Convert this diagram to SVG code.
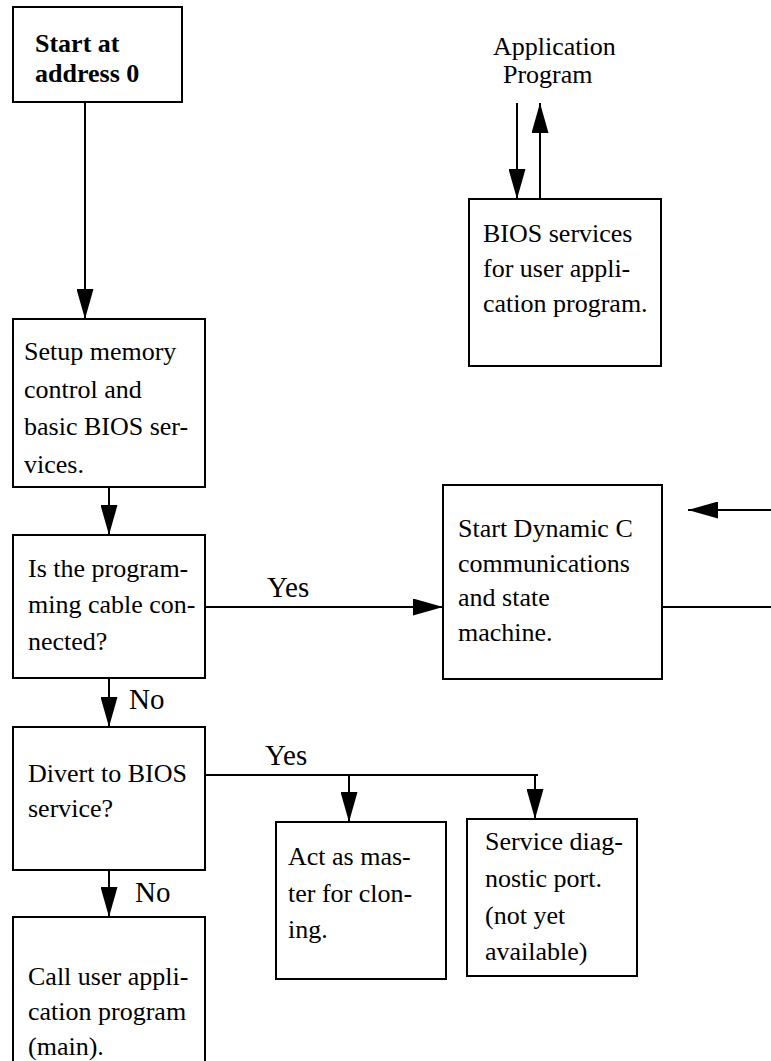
<svg xmlns="http://www.w3.org/2000/svg" width="771" height="1061" viewBox="0 0 771 1061">
<style>
.box{fill:#fff;stroke:#000;stroke-width:2}
.t{font-family:"Liberation Serif","Times New Roman",serif;font-size:26px;fill:#000}
.b{font-weight:bold}
.lbl{font-family:"Liberation Serif","Times New Roman",serif;font-size:29px;fill:#000}
.c{fill:none;stroke:#000;stroke-width:2}
</style>
<defs>
<marker id="ah" viewBox="0 0 30 17" refX="30" refY="8.5" markerWidth="30" markerHeight="17" orient="auto" markerUnits="userSpaceOnUse">
<path d="M0,0 L30,8.5 L0,17 Z" fill="#000"/>
</marker>
</defs>
<rect width="771" height="1061" fill="#fff"/>
<g id="connectors">
<line class="c" x1="85" y1="102" x2="85" y2="319" marker-end="url(#ah)"/>
<line class="c" x1="109" y1="487" x2="109" y2="535" marker-end="url(#ah)"/>
<line class="c" x1="205" y1="607" x2="443" y2="607" marker-end="url(#ah)"/>
<line class="c" x1="109" y1="678" x2="109" y2="727" marker-end="url(#ah)"/>
<line class="c" x1="109" y1="870" x2="109" y2="917" marker-end="url(#ah)"/>
<line class="c" x1="205" y1="775" x2="538" y2="775"/>
<line class="c" x1="349" y1="775" x2="349" y2="822" marker-end="url(#ah)"/>
<line class="c" x1="535" y1="776" x2="535" y2="819" marker-end="url(#ah)"/>
<line class="c" x1="517" y1="103" x2="517" y2="199" marker-end="url(#ah)"/>
<line class="c" x1="540" y1="199" x2="540" y2="103" marker-end="url(#ah)"/>
<line class="c" x1="771" y1="510" x2="688" y2="510" marker-end="url(#ah)"/>
<line class="c" x1="662" y1="607" x2="771" y2="607"/>
<text class="lbl" x="267" y="597">Yes</text>
<text class="lbl" x="129" y="709">No</text>
<text class="lbl" x="265" y="765">Yes</text>
<text class="lbl" x="135" y="902">No</text>
</g>
<g id="start">
<rect class="box" x="13" y="7" width="169" height="95"/>
<text class="t b" x="35" y="52">Start at</text>
<text class="t b" x="35" y="82">address 0</text>
</g>
<g id="app">
<text class="t" x="493" y="55">Application</text>
<text class="t" x="503" y="83">Program</text>
</g>
<g id="bios-services">
<rect class="box" x="469" y="199" width="192" height="167"/>
<text class="t" x="483" y="242">BIOS services</text>
<text class="t" x="483" y="277">for user appli-</text>
<text class="t" x="483" y="312">cation program.</text>
</g>
<g id="setup">
<rect class="box" x="13" y="319" width="192" height="168"/>
<text class="t" x="24" y="360">Setup memory</text>
<text class="t" x="24" y="398">control and</text>
<text class="t" x="24" y="435">basic BIOS ser-</text>
<text class="t" x="24" y="473">vices.</text>
</g>
<g id="cable">
<rect class="box" x="13" y="535" width="192" height="143"/>
<text class="t" x="28" y="577">Is the program-</text>
<text class="t" x="28" y="613">ming cable con-</text>
<text class="t" x="28" y="650">nected?</text>
</g>
<g id="dynamic-c">
<rect class="box" x="443" y="485" width="219" height="194"/>
<text class="t" x="458" y="537">Start Dynamic C</text>
<text class="t" x="458" y="572">communications</text>
<text class="t" x="458" y="606">and state</text>
<text class="t" x="458" y="641">machine.</text>
</g>
<g id="divert">
<rect class="box" x="13" y="727" width="192" height="143"/>
<text class="t" x="28" y="782">Divert to BIOS</text>
<text class="t" x="28" y="817">service?</text>
</g>
<g id="clone">
<rect class="box" x="276" y="822" width="170" height="157"/>
<text class="t" x="288" y="865">Act as mas-</text>
<text class="t" x="288" y="902">ter for clon-</text>
<text class="t" x="288" y="938">ing.</text>
</g>
<g id="diag">
<rect class="box" x="467" y="819" width="170" height="157"/>
<text class="t" x="485" y="850">Service diag-</text>
<text class="t" x="485" y="887">nostic port.</text>
<text class="t" x="485" y="924">(not yet</text>
<text class="t" x="485" y="960">available)</text>
</g>
<g id="call-main">
<rect class="box" x="13" y="917" width="192" height="160"/>
<text class="t" x="28" y="985">Call user appli-</text>
<text class="t" x="28" y="1020">cation program</text>
<text class="t" x="28" y="1055">(main).</text>
</g>
</svg>
